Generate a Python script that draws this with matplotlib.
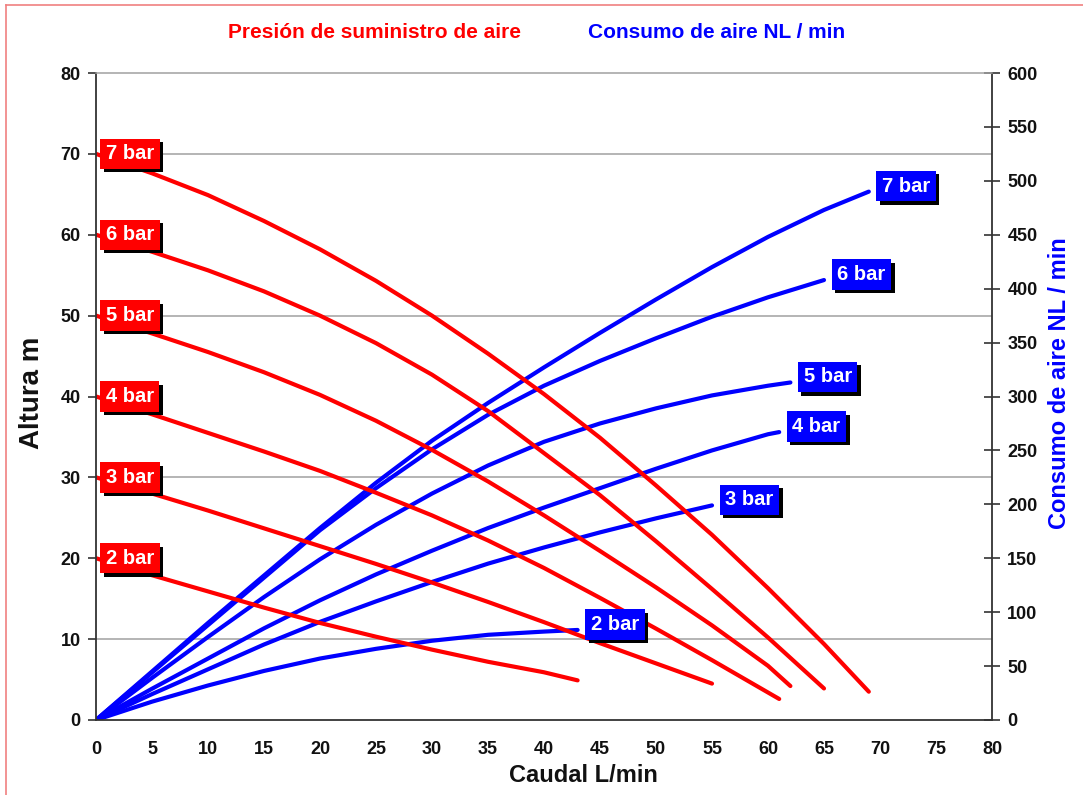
import matplotlib
matplotlib.use("Agg")
import matplotlib.pyplot as plt
import numpy as np
from matplotlib import patheffects as pe
from matplotlib.lines import Line2D

plt.rcParams['font.family'] = ['Liberation Sans', 'DejaVu Sans']
plt.rcParams['font.weight'] = 'bold'

# ---------------- data ----------------
pressures = ["2 bar", "3 bar", "4 bar", "5 bar", "6 bar", "7 bar"]

# Altura (m) vs Caudal (L/min)  -- red curves, left axis
head_x_2 = [0, 5, 10, 15, 20, 25, 30, 35, 40, 43]
head_y_2 = [20, 17.9, 15.9, 13.9, 12.0, 10.3, 8.7, 7.2, 5.9, 4.9]
head_x_3 = [0, 5, 10, 15, 20, 25, 30, 35, 40, 45, 50, 55]
head_y_3 = [30, 28.0, 25.9, 23.7, 21.5, 19.3, 17.0, 14.6, 12.1, 9.5, 7.0, 4.5]
head_x_4 = [0, 5, 10, 15, 20, 25, 30, 35, 40, 45, 50, 55, 60, 61]
head_y_4 = [40, 37.8, 35.5, 33.2, 30.8, 28.1, 25.3, 22.2, 18.8, 15.1, 11.3, 7.4, 3.4, 2.6]
head_x_5 = [0, 5, 10, 15, 20, 25, 30, 35, 40, 45, 50, 55, 60, 62]
head_y_5 = [50, 47.8, 45.5, 43.0, 40.2, 37.0, 33.4, 29.5, 25.3, 20.9, 16.4, 11.7, 6.7, 4.2]
head_x_6 = [0, 5, 10, 15, 20, 25, 30, 35, 40, 45, 50, 55, 60, 65]
head_y_6 = [60, 57.9, 55.6, 53.0, 50.0, 46.6, 42.7, 38.2, 33.0, 27.8, 22.1, 16.2, 10.2, 3.9]
head_x_7 = [0, 5, 10, 15, 20, 25, 30, 35, 40, 45, 50, 55, 60, 65, 69]
head_y_7 = [70, 67.6, 64.9, 61.7, 58.2, 54.3, 50.0, 45.3, 40.3, 34.9, 29.0, 22.9, 16.3, 9.4, 3.5]

# Consumo de aire (NL/min) vs Caudal (L/min) -- blue curves, right axis
air_x_2 = [0, 5, 10, 15, 20, 25, 30, 35, 40, 43]
air_y_2 = [0, 17, 32, 45.5, 57, 66, 73.5, 79, 82, 83.5]
air_x_3 = [0, 5, 10, 15, 20, 25, 30, 35, 40, 45, 50, 55]
air_y_3 = [0, 24, 47, 70, 91, 110, 128, 145, 160, 174, 187, 199]
air_x_4 = [0, 5, 10, 15, 20, 25, 30, 35, 40, 45, 50, 55, 60, 61]
air_y_4 = [0, 29, 57, 85, 111, 135, 157, 178, 197, 215, 233, 250, 265, 267]
air_x_5 = [0, 5, 10, 15, 20, 25, 30, 35, 40, 45, 50, 55, 60, 62]
air_y_5 = [0, 39, 77, 114, 149, 181, 210, 236, 258, 275, 289, 301, 310, 313]
air_x_6 = [0, 5, 10, 15, 20, 25, 30, 35, 40, 45, 50, 55, 60, 65]
air_y_6 = [0, 44, 88, 132, 176, 215, 251, 283, 310, 333, 354, 374, 392, 408]
air_x_7 = [0, 5, 10, 15, 20, 25, 30, 35, 40, 45, 50, 55, 60, 65, 69]
air_y_7 = [0, 45, 90, 134, 178, 220, 259, 294, 327, 359, 390, 420, 448, 473, 490]

head_x = [head_x_2, head_x_3, head_x_4, head_x_5, head_x_6, head_x_7]
head_y = [head_y_2, head_y_3, head_y_4, head_y_5, head_y_6, head_y_7]
air_x = [air_x_2, air_x_3, air_x_4, air_x_5, air_x_6, air_x_7]
air_y = [air_y_2, air_y_3, air_y_4, air_y_5, air_y_6, air_y_7]

x_ticks = list(range(0, 81, 5))
left_ticks = list(range(0, 81, 10))
right_ticks = list(range(0, 601, 50))

title_left = "Presión de suministro de aire"
title_right = "Consumo de aire NL / min"
xlabel = "Caudal L/min"
ylabel_left = "Altura m"
ylabel_right = "Consumo de aire NL / min"

RED = "#ff0000"
BLUE = "#0000ff"
DARK = "#333333"
GRID = "#a0a0a0"

# ---------------- figure ----------------
fig = plt.figure(figsize=(10.83, 7.95), dpi=100)
rect = [96 / 1083, 1 - 720 / 795, (992 - 96) / 1083, (720 - 73) / 795]
ax = fig.add_axes(rect)
ax2 = ax.twinx()

# layer: ax2 (grid + blue) below, ax (red) above
ax2.set_zorder(1)
ax.set_zorder(2)
ax.patch.set_visible(False)
ax2.patch.set_visible(True)
ax2.patch.set_facecolor("white")

ax.set_xlim(0, 80)
ax.set_ylim(0, 80)
ax2.set_ylim(0, 600)
ax.set_xticks(x_ticks)
ax.set_yticks(left_ticks)
ax2.set_yticks(right_ticks)

# grid on bottom layer (every 10 m == 75 NL/min)
ax2.set_yticks(np.arange(0, 601, 75), minor=True)
ax2.grid(axis="y", which="minor", color=GRID, lw=1.1)
ax2.grid(axis="x", which="major", color=GRID, lw=1.1)
ax2.tick_params(axis="y", which="minor", length=0)

for s in ax2.spines.values():
    s.set_visible(False)
for name in ["left", "bottom", "right"]:
    ax.spines[name].set_color(DARK)
    ax.spines[name].set_linewidth(1.3)
ax.spines["top"].set_color(GRID)
ax.spines["top"].set_linewidth(1.1)

ax.tick_params(axis="y", direction="out", length=6, width=1.2, color=DARK,
               labelsize=13, pad=5, labelcolor="#111111")
ax.tick_params(axis="x", length=0, labelsize=13, pad=15, labelcolor="#111111")
ax2.tick_params(axis="y", which="major", direction="inout", length=12, width=1.2,
                color=DARK, labelsize=13, pad=5, labelcolor="#111111")

# blue curves (right axis)
for xs, ys in zip(air_x, air_y):
    ax2.plot(xs, ys, color=BLUE, lw=3.0, solid_capstyle="round", solid_joinstyle="round")

# red curves (left axis)
for xs, ys in zip(head_x, head_y):
    ax.plot(xs, ys, color=RED, lw=3.0, solid_capstyle="round", solid_joinstyle="round")

shadow = [pe.withSimplePatchShadow(offset=(2.5, -2.5), shadow_rgbFace="black", alpha=1.0)]

# red labels at the start of each head curve
for name, xs, ys in zip(pressures, head_x, head_y):
    t = ax.annotate(name, xy=(xs[0], ys[0]), xycoords=ax.transData,
                    xytext=(7, 0), textcoords="offset points",
                    ha="left", va="center", color="white", fontsize=14.5, fontweight="bold",
                    bbox=dict(boxstyle="square,pad=0.28", fc=RED, ec="none"),
                    zorder=10)
    t.get_bbox_patch().set_path_effects(shadow)

# blue labels at the end of each consumption curve
for name, xs, ys in zip(pressures, air_x, air_y):
    t = ax.annotate(name, xy=(xs[-1], ys[-1]), xycoords=ax2.transData,
                    xytext=(9.5, 4), textcoords="offset points",
                    ha="left", va="center", color="white", fontsize=14.5, fontweight="bold",
                    bbox=dict(boxstyle="square,pad=0.28", fc=BLUE, ec="none"),
                    zorder=11)
    t.get_bbox_patch().set_path_effects(shadow)

# titles and axis labels
fig.text(375 / 1083, 1 - 32 / 795, title_left, color=RED, fontsize=15,
         fontweight="bold", ha="center", va="center")
fig.text(717 / 1083, 1 - 32 / 795, title_right, color=BLUE, fontsize=15,
         fontweight="bold", ha="center", va="center")
fig.text(583 / 1083, 1 - 775 / 795, xlabel, color="#111111", fontsize=17,
         fontweight="bold", ha="center", va="center")
fig.text(32 / 1083, 1 - 393 / 795, ylabel_left, color="#111111", fontsize=20,
         fontweight="bold", ha="center", va="center", rotation=90)
fig.text(1060 / 1083, 1 - 383 / 795, ylabel_right, color=BLUE, fontsize=17,
         fontweight="bold", ha="center", va="center", rotation=90)

# outer frame
fig.add_artist(Line2D([6 / 1083, 6 / 1083], [0, 1 - 5 / 795], transform=fig.transFigure,
                      color="#f08080", lw=1.2))
fig.add_artist(Line2D([6 / 1083, 1], [1 - 5 / 795, 1 - 5 / 795], transform=fig.transFigure,
                      color="#f08080", lw=1.2))

fig.savefig("out.png", dpi=100, facecolor="white")
